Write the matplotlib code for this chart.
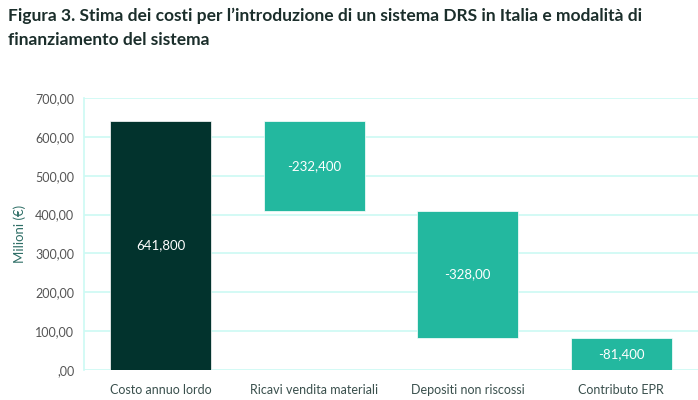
import matplotlib
matplotlib.use("Agg")
import matplotlib.pyplot as plt
from matplotlib.ticker import FuncFormatter

categories = ["Costo annuo lordo", "Ricavi vendita materiali", "Depositi non riscossi", "Contributo EPR"]
values = [641.8, -232.4, -328.0, -81.4]
value_labels = ["641,800", "-232,400", "-328,00", "-81,400"]
yticks = [0, 100, 200, 300, 400, 500, 600, 700]

plt.rcParams['font.family'] = ['Lato', 'DejaVu Sans']

fig = plt.figure(figsize=(6.98, 4.00), dpi=100)
ax = fig.add_axes([84/698, 1-370/400, 1-84/698, (370-98)/400])

dark = "#02332d"
teal = "#23b89f"
grid = "#ccfaf4"

bottoms = []
heights = []
cum = 0.0
for i, v in enumerate(values):
    if i == 0:
        bottoms.append(0)
        heights.append(v)
        cum = v
    else:
        bottoms.append(cum + v)
        heights.append(-v)
        cum = cum + v
colors = [dark] + [teal] * (len(values) - 1)
x = list(range(len(categories)))
ax.bar(x, heights, bottom=bottoms, width=0.66, color=colors, edgecolor="white", linewidth=0.5, zorder=3)

for xi, b, h, lab in zip(x, bottoms, heights, value_labels):
    ax.text(xi, b + h / 2, lab, ha="center", va="center", color="white", fontsize=9.5, zorder=4)

ax.set_xlim(-0.5, len(categories) - 0.5)
ax.set_ylim(0, 700)
ax.set_yticks(yticks)
ax.yaxis.set_major_formatter(FuncFormatter(lambda v, p: ("%d" % v if v != 0 else "") + ",00"))
ax.set_xticks(x)
ax.set_xticklabels(categories, fontsize=9, color="#3a504d")
ax.tick_params(axis="y", labelsize=9, colors="#555555", length=0, pad=7)
ax.tick_params(axis="x", length=0, pad=10)
ax.grid(axis="y", color=grid, linewidth=1.2, zorder=0)
for s in ["top", "right", "bottom"]:
    ax.spines[s].set_visible(False)
ax.spines["left"].set_color(grid)
ax.spines["left"].set_linewidth(1.2)
ax.set_ylabel("Milioni (€)", fontsize=9.5, color="#2e6e66")
ax.yaxis.set_label_coords(-(84 - 26) / 614, 0.5)

fig.text(8/698, 1-28/400, "Figura 3. Stima dei costi per l’introduzione di un sistema DRS in Italia e modalità di\nfinanziamento del sistema",
         ha="left", va="center", fontsize=12.5, fontweight="bold", color="#1b2e2b", linespacing=1.6)
fig.savefig("out.png", dpi=100)
